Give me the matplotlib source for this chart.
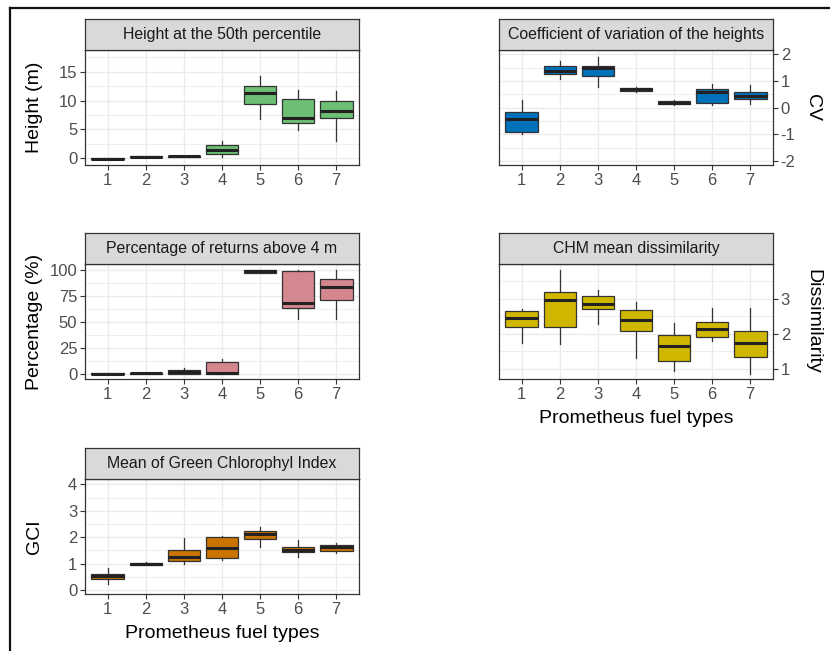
import numpy as np
import matplotlib.pyplot as plt
from matplotlib.lines import Line2D
from matplotlib.ticker import MultipleLocator

plt.rcParams['font.family'] = ['Liberation Sans', 'DejaVu Sans']
plt.rcParams['axes.unicode_minus'] = False

fuel_types = ['1', '2', '3', '4', '5', '6', '7']

# per fuel type: (lower whisker, q1, median, q3, upper whisker)
height_p50 = [(-0.2, -0.15, -0.1, 0.0, 0.05), (0.1, 0.15, 0.2, 0.3, 0.35),
              (0.2, 0.25, 0.3, 0.4, 0.45), (0.2, 0.65, 1.45, 2.3, 2.9),
              (6.8, 9.4, 11.3, 12.6, 14.2), (4.9, 6.1, 7.0, 10.3, 11.9),
              (3.0, 7.0, 8.2, 10.0, 11.75)]
cv_heights = [(-0.98, -0.92, -0.42, -0.18, 0.28), (1.08, 1.26, 1.38, 1.56, 1.76),
              (0.78, 1.18, 1.47, 1.56, 1.89), (0.6, 0.63, 0.68, 0.72, 0.78),
              (0.08, 0.12, 0.17, 0.25, 0.3), (0.11, 0.16, 0.57, 0.70, 0.88),
              (0.12, 0.33, 0.44, 0.59, 0.85)]
pct_above_4m = [(0, 0, 0, 0.5, 0.5), (0, 0, 0.3, 1.0, 1.2),
                (0, 0, 1.6, 3.2, 5.8), (0, 0, 0.3, 10.9, 14.1),
                (97, 97.5, 98.7, 100, 100), (52.9, 63.2, 68.6, 99, 100),
                (53.2, 70.8, 83.7, 91.6, 99.7)]
chm_dissim = [(1.74, 2.20, 2.44, 2.64, 2.70), (1.71, 2.20, 2.97, 3.20, 3.82),
              (2.26, 2.70, 2.84, 3.08, 3.25), (1.30, 2.07, 2.39, 2.66, 2.91),
              (0.94, 1.21, 1.63, 1.95, 2.30), (1.80, 1.90, 2.14, 2.33, 2.73),
              (0.85, 1.33, 1.73, 2.06, 2.73)]
gci_mean = [(0.21, 0.43, 0.54, 0.62, 0.85), (0.93, 0.96, 1.0, 1.04, 1.06),
            (0.97, 1.09, 1.24, 1.52, 1.98), (1.14, 1.20, 1.60, 2.02, 2.05),
            (1.64, 1.92, 2.11, 2.25, 2.40), (1.26, 1.43, 1.52, 1.64, 1.89),
            (1.39, 1.49, 1.62, 1.72, 1.79)]

W, H = 830, 651
fig = plt.figure(figsize=(W / 100, H / 100), dpi=100)

# outer frame (top and left edges)
fig.add_artist(Line2D([9.5 / W, 9.5 / W], [0, 1 - 8 / H], color='#111111', lw=1.6))
fig.add_artist(Line2D([9.5 / W, 1], [1 - 8 / H, 1 - 8 / H], color='#111111', lw=1.6))

dark = '#333333'


def panel(x0, y0, data, color, title, ylabel, ylim, major, minor,
          right=False, xlabel=None):
    w, h = 274, 115
    ax = fig.add_axes([x0 / W, 1 - (y0 + h) / H, w / W, h / H])
    stats = [dict(whislo=d[0], q1=d[1], med=d[2], q3=d[3], whishi=d[4],
                  fliers=[]) for d in data]
    ax.bxp(stats, positions=np.arange(1, 8), widths=0.86, patch_artist=True,
           showcaps=False, showfliers=False,
           boxprops=dict(facecolor=color, edgecolor=dark, linewidth=0.9),
           medianprops=dict(color='#222222', linewidth=2.2, solid_capstyle='butt'),
           whiskerprops=dict(color=dark, linewidth=0.9))
    ax.set_xlim(0.4, 7.6)
    ax.set_ylim(*ylim)
    ax.set_xticks(np.arange(1, 8))
    ax.set_xticklabels(fuel_types)
    ax.yaxis.set_major_locator(MultipleLocator(major))
    ax.yaxis.set_minor_locator(MultipleLocator(minor))
    ax.grid(True, which='major', color='#EBEBEB', lw=1.0)
    ax.grid(True, which='minor', axis='y', color='#EBEBEB', lw=0.6)
    ax.set_axisbelow(True)
    ax.tick_params(which='major', length=3.5, width=0.8, color=dark,
                   labelsize=12, labelcolor='#4D4D4D', pad=2)
    ax.tick_params(which='minor', length=0)
    for s in ax.spines.values():
        s.set_color(dark)
        s.set_linewidth(0.9)
    if right:
        ax.yaxis.tick_right()
        ax.yaxis.set_label_position('right')
        ax.set_ylabel(ylabel, fontsize=14, rotation=270)
        ax.yaxis.set_label_coords(1.176, 0.5)
    else:
        ax.set_ylabel(ylabel, fontsize=14)
        ax.yaxis.set_label_coords(-0.153, 0.5)
    if xlabel:
        ax.set_xlabel(xlabel, fontsize=14, labelpad=6)
    # facet strip
    sh = 31
    st = fig.add_axes([x0 / W, 1 - y0 / H, w / W, sh / H])
    st.set_facecolor('#D9D9D9')
    st.set_xticks([])
    st.set_yticks([])
    for s in st.spines.values():
        s.set_color(dark)
        s.set_linewidth(0.9)
    st.text(0.5, 0.5, title, ha='center', va='center', fontsize=11.4,
            color='#1A1A1A', transform=st.transAxes)
    return ax


panel(85, 50, height_p50, '#6CBF73', 'Height at the 50th percentile',
      'Height (m)', (-1.2, 18.8), 5, 2.5)
panel(499, 50, cv_heights, '#0072BC', 'Coefficient of variation of the heights',
      'CV', (-2.15, 2.16), 1, 0.5, right=True)
panel(85, 264, pct_above_4m, '#D4878F', 'Percentage of returns above 4 m',
      'Percentage (%)', (-5.1, 105.8), 25, 12.5)
panel(499, 264, chm_dissim, '#CFB700', 'CHM mean dissimilarity',
      'Dissimilarity', (0.70, 3.99), 1, 0.5, right=True,
      xlabel='Prometheus fuel types')
panel(85, 479, gci_mean, '#C97400', 'Mean of Green Chlorophyl Index',
      'GCI', (-0.15, 4.2), 1, 0.5, xlabel='Prometheus fuel types')

fig.savefig('out.png', dpi=100)
